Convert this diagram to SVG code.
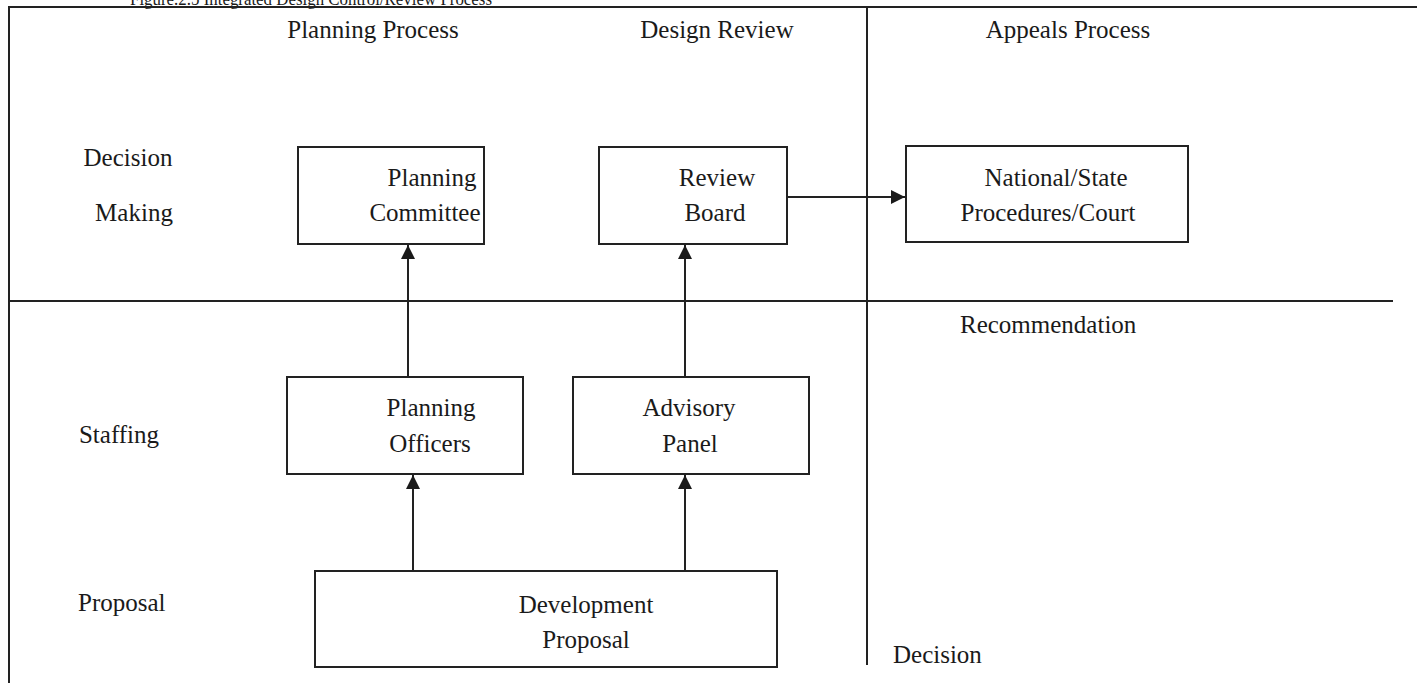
<svg xmlns="http://www.w3.org/2000/svg" width="1417" height="684" viewBox="0 0 1417 684">
<defs>
<style>
text{font-family:"Liberation Serif","Times New Roman",serif;font-size:25px;fill:#1a1a1a}
.c{text-anchor:middle}
.box{fill:#fff;stroke:#222;stroke-width:2}
.ln{stroke:#222;stroke-width:2;fill:none}
</style>
<marker id="ah" viewBox="0 0 10 10" refX="10" refY="5" markerWidth="14" markerHeight="14" markerUnits="userSpaceOnUse" orient="auto">
<path d="M0,0 L10,5 L0,10 z" fill="#1a1a1a"/>
</marker>
</defs>
<rect width="1417" height="684" fill="#fff"/>
<text x="130" y="5" style="font-size:18px" textLength="362" lengthAdjust="spacingAndGlyphs">Figure.2.5 Integrated Design Control/Review Process</text>
<g id="frame">
<path class="ln" d="M9,683 L9,7 L1417,7"/>
<line class="ln" x1="867" y1="7" x2="867" y2="665"/>
<line class="ln" x1="9" y1="301" x2="1393" y2="301"/>
</g>
<g id="labels">
<text class="c" x="373" y="38">Planning Process</text>
<text class="c" x="717" y="38">Design Review</text>
<text class="c" x="1068" y="38">Appeals Process</text>
<text class="c" x="128" y="166">Decision</text>
<text class="c" x="134" y="221">Making</text>
<text class="c" x="119" y="443">Staffing</text>
<text x="78" y="611">Proposal</text>
<text x="960" y="333">Recommendation</text>
<text x="893" y="663">Decision</text>
</g>
<g id="planning-committee">
<rect class="box" x="298" y="147" width="186" height="97"/>
<text class="c" x="432" y="186">Planning</text>
<text class="c" x="425" y="221">Committee</text>
</g>
<g id="review-board">
<rect class="box" x="599" y="147" width="188" height="97"/>
<text class="c" x="717" y="186">Review</text>
<text class="c" x="715" y="221">Board</text>
</g>
<g id="national-state">
<rect class="box" x="906" y="146" width="282" height="96"/>
<text class="c" x="1056" y="186">National/State</text>
<text class="c" x="1048" y="221">Procedures/Court</text>
</g>
<g id="planning-officers">
<rect class="box" x="287" y="377" width="236" height="97"/>
<text class="c" x="431" y="416">Planning</text>
<text class="c" x="430" y="452">Officers</text>
</g>
<g id="advisory-panel">
<rect class="box" x="573" y="377" width="236" height="97"/>
<text class="c" x="689" y="416">Advisory</text>
<text class="c" x="690" y="452">Panel</text>
</g>
<g id="development-proposal">
<rect class="box" x="315" y="571" width="462" height="96"/>
<text class="c" x="586" y="613">Development</text>
<text class="c" x="586" y="648">Proposal</text>
</g>
<g id="connectors">
<line class="ln" x1="408" y1="377" x2="408" y2="245" marker-end="url(#ah)"/>
<line class="ln" x1="685" y1="377" x2="685" y2="245" marker-end="url(#ah)"/>
<line class="ln" x1="413" y1="571" x2="413" y2="475" marker-end="url(#ah)"/>
<line class="ln" x1="685" y1="571" x2="685" y2="475" marker-end="url(#ah)"/>
<line class="ln" x1="787" y1="197" x2="905" y2="197" marker-end="url(#ah)"/>
</g>
</svg>
